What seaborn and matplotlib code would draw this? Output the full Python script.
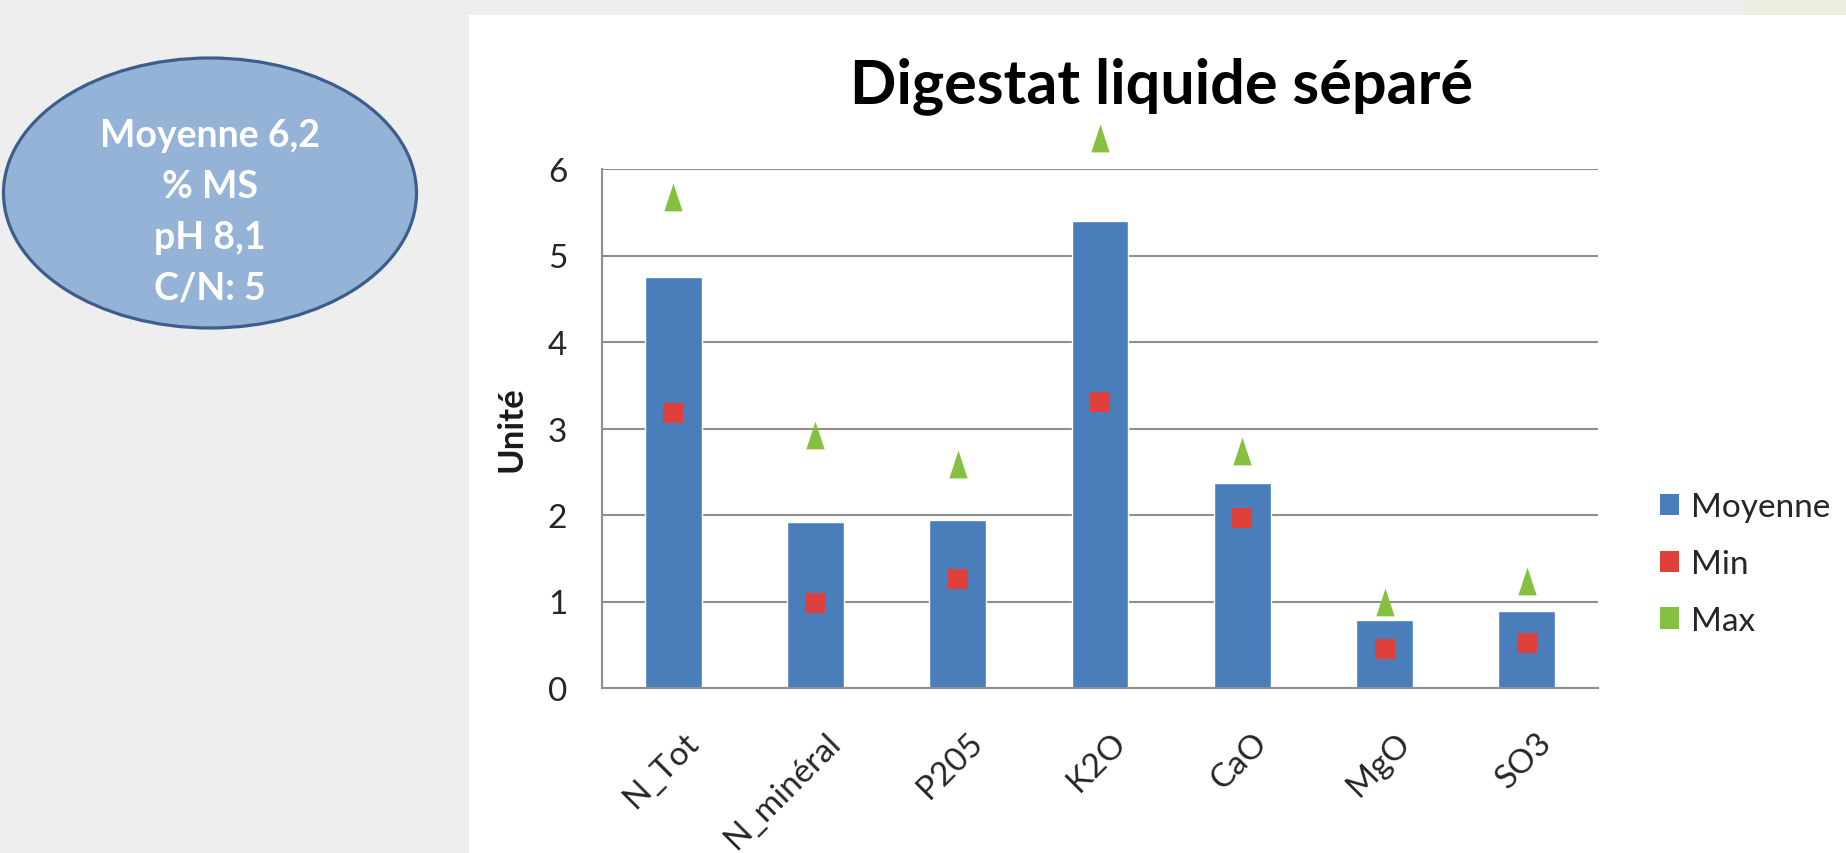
import matplotlib
matplotlib.use("Agg")
import matplotlib.pyplot as plt
import seaborn as sns
from matplotlib.patches import Ellipse, Rectangle, Patch
from matplotlib.transforms import ScaledTranslation

categories = ['N_Tot', 'N_minéral', 'P205', 'K2O', 'CaO', 'MgO', 'SO3']
moyenne = [4.75, 1.92, 1.94, 5.40, 2.37, 0.79, 0.89]
val_min = [3.18, 0.98, 1.26, 3.31, 1.97, 0.45, 0.52]
val_max = [5.68, 2.93, 2.59, 6.36, 2.74, 1.00, 1.24]
series_names = ['Moyenne', 'Min', 'Max']
y_ticks = [0, 1, 2, 3, 4, 5, 6]
info_lines = ['Moyenne 6,2', '% MS', 'pH 8,1', 'C/N: 5']

blue = '#4A7EBB'
red = '#E0403C'
green = '#86C040'
grid_grey = '#8E8E8E'

sns.set_style("white")
plt.rcParams['font.family'] = ['Lato', 'DejaVu Sans']

W, H = 1846, 854
fig = plt.figure(figsize=(W / 100, H / 100), dpi=100)
fig.patch.set_facecolor('#EEEEEE')

# white slide panel + pale green strip top right
fig.add_artist(Rectangle((469 / W, 0), 1 - 469 / W, 1 - 16 / H,
                         transform=fig.transFigure, facecolor='white', edgecolor='none', zorder=0))
fig.add_artist(Rectangle((1745 / W, 1 - 16 / H), 1 - 1745 / W, 16 / H,
                         transform=fig.transFigure, facecolor='#EAEEDF', edgecolor='none', zorder=0))

# info ellipse
fig.add_artist(Ellipse((210 / W, 1 - 194 / H), 413 / W, 270 / H, transform=fig.transFigure,
                       facecolor='#95B3D7', edgecolor='#3B5E8C', linewidth=2.3, zorder=1))
for i, line in enumerate(info_lines):
    fig.text(210 / W, 1 - (147 + 51 * i) / H, line, ha='center', va='baseline',
             fontsize=27, fontweight='bold', color='white', zorder=2)

ax = fig.add_axes([602 / W, 165 / H, 996 / W, 519 / H])
ax.set_facecolor('none')

sns.barplot(x=categories, y=moyenne, color=blue, width=0.40, saturation=1, ax=ax, zorder=2)
sns.scatterplot(x=categories, y=val_min, marker='s', s=205, color=red, linewidth=0, ax=ax, zorder=3)
tri = [(-0.33, -0.5), (0.33, -0.5), (0.0, 0.5)]
sns.scatterplot(x=categories, y=val_max, marker=tri, s=400, color=green, linewidth=0, ax=ax, zorder=3)
for coll in ax.collections:
    coll.set_clip_on(False)

ax.set_ylim(0, 6)
ax.set_xlim(-0.5, len(categories) - 0.5)
ax.set_yticks(y_ticks)
ax.yaxis.grid(True, color=grid_grey, linewidth=1.5)
ax.set_axisbelow(True)
for side in ['top', 'right']:
    ax.spines[side].set_visible(False)
for side in ['left', 'bottom']:
    ax.spines[side].set_color(grid_grey)
    ax.spines[side].set_linewidth(1.5)

ax.tick_params(axis='y', length=0, pad=25, labelsize=24, labelcolor='#262626')
ax.tick_params(axis='x', length=0, pad=28, labelsize=24, labelcolor='#262626')
for lab in ax.get_xticklabels():
    lab.set_rotation(45)
    lab.set_ha('right')
    lab.set_va('top')
    lab.set_rotation_mode('anchor')
    lab.set_transform(lab.get_transform() + ScaledTranslation(10 / 100, 0, fig.dpi_scale_trans))

ax.set_xlabel('')
ax.set_ylabel('Unité', fontsize=25, fontweight='bold', color='#1A1A1A')
ax.yaxis.label.set_va('center')
ax.yaxis.set_label_coords((512 - 602) / 996, 0.5)

fig.text(1161 / W, 1 - 103 / H, 'Digestat liquide séparé', ha='center', va='baseline',
         fontsize=44, fontweight='bold', color='black')

handles = [Patch(facecolor=c, edgecolor='none') for c in [blue, red, green]]
fig.legend(handles, series_names, loc='center left', bbox_to_anchor=(1660 / W, 1 - 565 / H),
           frameon=False, fontsize=24, handlelength=0.57, handleheight=0.6,
           handletextpad=0.35, labelspacing=0.8, borderpad=0, borderaxespad=0)

fig.savefig('out.png', dpi=100, facecolor=fig.get_facecolor())
